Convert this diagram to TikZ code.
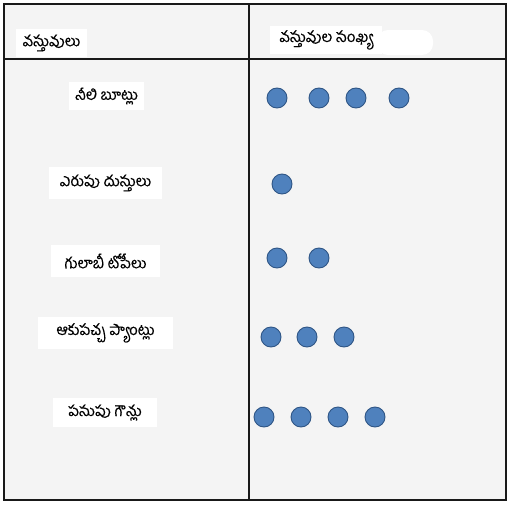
\documentclass[tikz,border=0pt]{standalone}
\usepackage{fontspec}
\newfontfamily\telugu[Script=Telugu,FakeBold=0.4]{Hind Guntur}
\definecolor{bgcol}{HTML}{F4F4F4}
\definecolor{dotfill}{HTML}{4F81BD}
\definecolor{dotedge}{HTML}{2E5585}
\begin{document}
\begin{tikzpicture}[x=1pt,y=-1pt,
  label box/.style={fill=white,inner sep=0pt,font=\telugu\fontsize{15}{17}\selectfont,text=black},
  dot/.style={circle,fill=dotfill,draw=dotedge,line width=0.9pt,minimum size=20pt,inner sep=0pt},
  grid line/.style={line width=1.8pt,color=black!90}]
\useasboundingbox (0,0) rectangle (511,506);
\fill[white] (0,0) rectangle (511,506);
\fill[bgcol] (4,4) rectangle (506,500);
% header white patches
\node[label box,minimum width=71pt,minimum height=28pt] (h1) at (51.5,43) {వస్తువులు};
\node[fill=white,rounded corners=11pt,inner sep=0pt,minimum width=56pt,minimum height=25pt] (blob) at (405,42.5) {};
\node[label box,minimum width=112pt,minimum height=28pt] (h2) at (326,40) {వస్తువుల సంఖ్య};
% row labels
\node[label box,minimum width=75pt,minimum height=28pt] (r1) at (106.5,96) {నీలి బూట్లు};
\node[label box,minimum width=113pt,minimum height=32pt] (r2) at (105.5,183) {ఎరుపు దుస్తులు};
\node[label box,minimum width=109pt,minimum height=32pt] (r3) at (105.5,261) {గులాబీ టోపీలు};
\node[label box,minimum width=135pt,minimum height=32pt] (r4) at (105.5,333) {ఆకుపచ్చ ప్యాంట్లు};
\node[label box,minimum width=104pt,minimum height=29pt] (r5) at (105,412.5) {పసుపు గౌన్లు};
% dots
\node[dot] (d11) at (277,98) {};
\node[dot] (d12) at (319,98) {};
\node[dot] (d13) at (356,98) {};
\node[dot] (d14) at (399,98) {};
\node[dot] (d21) at (282,184) {};
\node[dot] (d31) at (277,258) {};
\node[dot] (d32) at (319,258) {};
\node[dot] (d41) at (271,337) {};
\node[dot] (d42) at (307,337) {};
\node[dot] (d43) at (344,337) {};
\node[dot] (d51) at (264,417) {};
\node[dot] (d52) at (301,417) {};
\node[dot] (d53) at (338,417) {};
\node[dot] (d54) at (375,417) {};
% table lines
\draw[grid line] (4,4) rectangle (506,500);
\draw[grid line] (249,4) -- (249,500);
\draw[grid line] (4,59) -- (506,59);
\end{tikzpicture}
\end{document}
